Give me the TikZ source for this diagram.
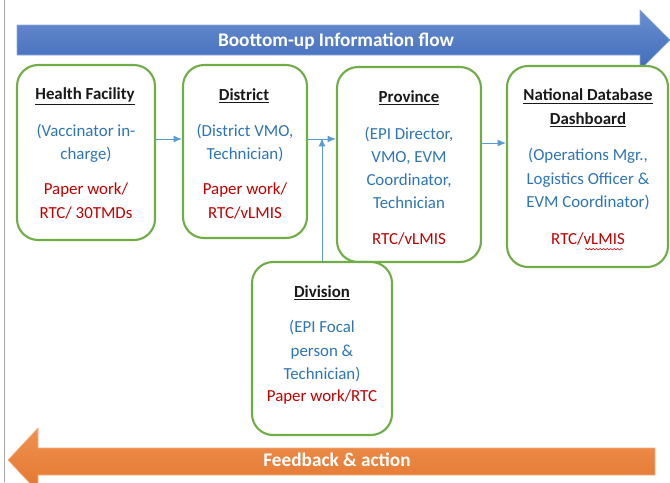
\documentclass[tikz,border=0pt]{standalone}
\usepackage{fontspec}
\setmainfont{Carlito}
\usetikzlibrary{positioning,fit,arrows.meta,decorations.pathmorphing}
\definecolor{boxgreen}{HTML}{70AD47}
\definecolor{whoblue}{HTML}{2E75B6}
\definecolor{toolred}{HTML}{C00000}
\definecolor{lineblue}{HTML}{5B9BD5}
\definecolor{upblue}{HTML}{4472C4}
\definecolor{downorange}{HTML}{ED7D31}
\tikzset{
  levelbox/.style={
    rectangle,
    rounded corners=15pt,
    draw=boxgreen, line width=1.5pt,
    fill=white,
    inner sep=0pt},
  titletext/.style={font=\fontsize{12}{16.4}\selectfont\bfseries, text=black!90, align=center},
  whotext/.style={font=\fontsize{12}{16.4}\selectfont, text=whoblue, align=center},
  tooltext/.style={font=\fontsize{12}{17.5}\selectfont, text=toolred, align=center},
  flowline/.style={draw=lineblue, line width=0.7pt, -{Latex[length=6pt,width=5pt]}},
  upband/.style={top color=upblue!80!white, bottom color=upblue!95!black, draw=upblue!60!white, line width=0.4pt},
  downband/.style={top color=downorange!85!white, bottom color=downorange!95!black, draw=downorange!60!white, line width=0.4pt},
  bandtext/.style={font=\fontsize{13.7}{16}\selectfont\bfseries, text=white},
}
\begin{document}
\begin{tikzpicture}[x=0.025cm, y=-0.025cm]
  \useasboundingbox (0,0) rectangle (670,482);
  \draw[black!35, line width=0.4pt] (4,0) -- (4,482);
  % information going up
  \shade[upband] (17,25) -- (640,25) -- (640,10) -- (670,40) -- (640,70) -- (640,55) -- (17,55) -- cycle;
  \node[bandtext] (up-label) at (336,41) {Boottom-up Information flow};
  % the levels
  \node[levelbox, fit={(17,65) (155,240)}] (hf) {};
  \node[levelbox, fit={(183,65) (307,238)}] (dist) {};
  \node[levelbox, fit={(337,67) (481,262)}] (prov) {};
  \node[levelbox, fit={(507,66) (668,267)}] (nat) {};
  \node[levelbox, fit={(252,262) (392,435)}] (div) {};
  \node[titletext] (hf-title) at (85,96) {\underline{Health Facility}};
  \node[whotext] (hf-who) at (86,143) {(Vaccinator in-\\charge)};
  \node[tooltext] (hf-tool) at (86,201) {Paper work/\\RTC/ 30TMDs};
  \node[titletext] (dist-title) at (244,96) {\underline{District}};
  \node[whotext] (dist-who) at (245,143) {(District VMO,\\Technician)};
  \node[tooltext] (dist-tool) at (245,201) {Paper work/\\RTC/vLMIS};
  \node[titletext] (prov-title) at (409,98) {\underline{Province}};
  \node[whotext] (prov-who) at (409,168) {(EPI Director,\\VMO, EVM\\Coordinator,\\Technician};
  \node[tooltext] (prov-tool) at (409,239) {RTC/vLMIS};
  \node[titletext] (nat-title) at (588,108) {\underline{National Database}\\\underline{Dashboard}};
  \node[whotext] (nat-who) at (588,179) {(Operations Mgr.,\\Logistics Officer \&\\EVM Coordinator)};
  \node[tooltext] (nat-tool) at (588,239) {RTC/vLMIS};
  \draw[toolred, line width=0.4pt, decorate, decoration={snake, amplitude=0.5pt, segment length=2.5pt}]
    (nat-tool.south) ++(-3,-1) -- ++(38,0);
  \node[titletext] (div-title) at (322,293) {\underline{Division}};
  \node[whotext] (div-who) at (322,351) {(EPI Focal\\person \&\\Technician)};
  \node[tooltext] (div-tool) at (322,397) {Paper work/RTC};
  % reporting lines
  \draw[flowline] (hf.east |- 0,139) -- (dist.west |- 0,139);
  \draw[flowline] (dist.east |- 0,139) -- (prov.west |- 0,139);
  \draw[flowline] (prov.east |- 0,143) -- (nat.west |- 0,143);
  \draw[flowline] (div.north) -- (div.north |- 0,138);
  % feedback going down
  \shade[downband] (655,448) -- (38,448) -- (38,428) -- (8,460) -- (38,492) -- (38,475) -- (655,475) -- cycle;
  \node[bandtext] (down-label) at (337,460) {Feedback \& action};
\end{tikzpicture}
\end{document}
